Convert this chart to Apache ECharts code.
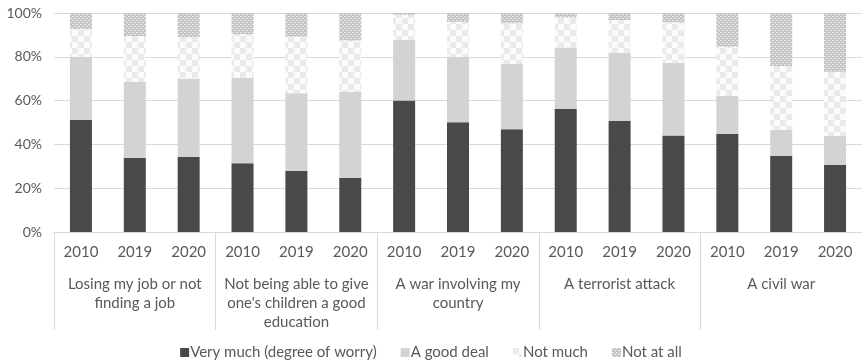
<!DOCTYPE html>
<html>
<head>
<meta charset="utf-8">
<script src="https://cdn.jsdelivr.net/npm/echarts@6/dist/echarts.min.js"></script>
<style>
  html, body { margin: 0; padding: 0; background: #ffffff; }
  #chart { width: 862px; height: 360px; }
</style>
</head>
<body>
<div id="chart"></div>
<script>
// Survey topics (outer axis) and survey years (inner axis)
const topics = [
  'Losing my job or not\nfinding a job',
  "Not being able to give\none's children a good\neducation",
  'A war involving my\ncountry',
  'A terrorist attack',
  'A civil war'
];
const years = ['2010', '2019', '2020'];
const yTicks = [0, 20, 40, 60, 80, 100];

// Share of respondents (%) per answer, one value per topic/year column
const veryMuch = [51.1, 33.9, 34.4, 31.4, 27.9, 24.8, 60.0, 50.1, 46.9, 56.2, 50.7, 44.1, 44.9, 34.8, 30.6];
const goodDeal = [28.9, 34.7, 35.6, 38.9, 35.4, 39.3, 27.7, 29.8, 30.0, 28.1, 31.2, 33.2, 17.2, 11.8, 13.2];
const notMuch  = [12.7, 20.9, 18.9, 20.1, 25.9, 23.3, 11.4, 16.1, 18.4, 13.7, 14.9, 18.4, 22.5, 29.2, 29.4];
const notAtAll = [7.3, 10.5, 11.1, 9.6, 10.8, 12.6, 0.9, 4.0, 4.7, 2.0, 3.2, 4.3, 15.4, 24.2, 26.8];

const seriesNames = ['Very much (degree of worry)', 'A good deal', 'Not much', 'Not at all'];

// Column labels: every year repeated under each topic
const columns = [];
topics.forEach(() => years.forEach(y => columns.push(y)));

// Checkerboard fill for "Not much"
function checkerPattern() {
  const c = document.createElement('canvas');
  c.width = 12; c.height = 12;
  const g = c.getContext('2d');
  g.fillStyle = '#fbfbfb'; g.fillRect(0, 0, 12, 12);
  g.fillStyle = '#eaeaeb';
  g.fillRect(0, 0, 6, 6);
  g.fillRect(6, 6, 6, 6);
  return { image: c, repeat: 'repeat' };
}
// Dotted grey fill for "Not at all"
function dotPattern() {
  const c = document.createElement('canvas');
  c.width = 4; c.height = 4;
  const g = c.getContext('2d');
  g.fillStyle = '#c4c5c7'; g.fillRect(0, 0, 4, 4);
  g.fillStyle = '#e9e9ea';
  g.fillRect(0, 0, 2, 1);
  g.fillRect(2, 2, 2, 1);
  return { image: c, repeat: 'repeat' };
}

const fills = ['#48494b', '#d2d3d5', checkerPattern(), dotPattern()];
const values = [veryMuch, goodDeal, notMuch, notAtAll];

const FONT = 'Lato';
const TXT = '#595959';
const GRID = '#d9d9d9';

const chart = echarts.init(document.getElementById('chart'), null, { renderer: 'canvas' });

chart.setOption({
  animation: false,
  textStyle: { fontFamily: FONT },
  grid: { left: 54, top: 13, width: 811, height: 219, containLabel: false },
  legend: {
    top: 340,
    left: 'center',
    itemWidth: 9,
    itemHeight: 9,
    itemGap: 24,
    icon: 'rect',
    textStyle: { color: TXT, fontSize: 15, fontFamily: FONT, padding: [0, 0, 0, -4] },
    data: seriesNames
  },
  yAxis: {
    type: 'value',
    min: yTicks[0],
    max: yTicks[yTicks.length - 1],
    interval: 20,
    axisLine: { show: false },
    axisTick: { show: false },
    splitLine: { lineStyle: { color: GRID, width: 1 } },
    axisLabel: { formatter: '{value}%', color: TXT, fontSize: 14, fontFamily: FONT, margin: 12 }
  },
  xAxis: [
    {
      type: 'category',
      data: columns,
      position: 'bottom',
      axisLine: { lineStyle: { color: GRID, width: 1 } },
      axisTick: { show: false },
      axisLabel: { color: TXT, fontSize: 15, fontFamily: FONT, margin: 13, interval: 0 }
    },
    {
      type: 'category',
      data: topics,
      position: 'bottom',
      axisLine: { show: false },
      axisTick: { show: true, length: 98, interval: 0, lineStyle: { color: GRID, width: 1 } },
      axisLabel: { color: TXT, fontSize: 15, fontFamily: FONT, margin: 43, lineHeight: 19, interval: 0, verticalAlign: 'top' }
    }
  ],
  series: seriesNames.map((name, i) => ({
    name: name,
    type: 'bar',
    stack: 'share',
    xAxisIndex: 0,
    barWidth: 22,
    itemStyle: { color: fills[i] },
    data: values[i]
  }))
});
</script>
</body>
</html>
